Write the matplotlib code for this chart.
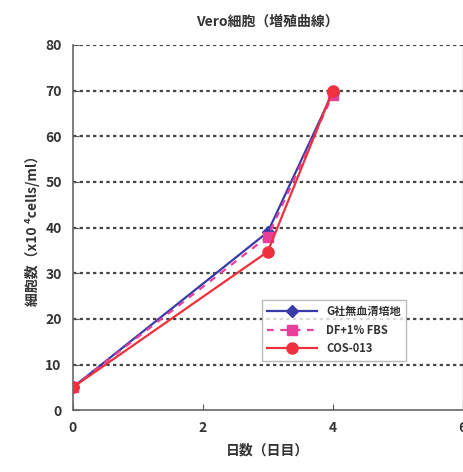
import matplotlib
matplotlib.use('Agg')
import matplotlib.pyplot as plt

plt.rcParams['font.family'] = ['Noto Sans CJK JP', 'DejaVu Sans']

# Data
days = [0, 3, 4]
g_serum_free = [5, 39, 69.5]
df_fbs = [5, 38, 69]
cos_013 = [5, 34.7, 70]

series_labels = ['G社無血清培地', 'DF+1% FBS', 'COS-013']
x_ticks = [0, 2, 4, 6]
y_ticks = [0, 10, 20, 30, 40, 50, 60, 70, 80]

text_color = '#333333'

fig = plt.figure(figsize=(4.64, 4.72), dpi=100)
ax = fig.add_axes([0.157, 0.131, 0.84, 0.774])

# Dotted horizontal gridlines
for yv in y_ticks[1:]:
    ax.axhline(yv, color='#444444', linestyle=(0, (1.5, 1.5)), linewidth=1.6, zorder=1)

ax.plot(days, g_serum_free, color='#3a3aa8', marker='D', markersize=6,
        linewidth=1.6, label=series_labels[0], zorder=3)
ax.plot(days, df_fbs, color='#e8409a', marker='s', markersize=7,
        linewidth=1.6, linestyle=(0, (3, 3)), label=series_labels[1], zorder=4)
ax.plot(days, cos_013, color='#f0303c', marker='o', markersize=8,
        linewidth=1.6, label=series_labels[2], zorder=5)

ax.set_xlim(0, 6)
ax.set_ylim(0, 80)
ax.set_xticks(x_ticks)
ax.set_yticks(y_ticks)
ax.tick_params(direction='in', length=4, color='#555555', labelsize=10,
               labelcolor=text_color, pad=8)

for side in ['left', 'bottom']:
    ax.spines[side].set_color('#666666')
    ax.spines[side].set_linewidth(1.2)
ax.spines['top'].set_visible(False)
ax.spines['right'].set_color('#999999')
ax.spines['right'].set_linewidth(1.0)

ax.set_title('Vero細胞（増殖曲線）', fontsize=10, color=text_color,
             fontweight='bold', pad=14)
ax.set_xlabel('日数（日目）', fontsize=10, color=text_color, fontweight='bold', labelpad=6)
ax.set_ylabel('細胞数（x10 ⁴cells/ml）', fontsize=10, color=text_color,
              fontweight='bold', labelpad=4)

for lbl in ax.get_xticklabels() + ax.get_yticklabels():
    lbl.set_fontweight('bold')

leg = ax.legend(loc='lower left', bbox_to_anchor=(0.47, 0.12), fontsize=8,
                frameon=True, fancybox=False, edgecolor='#aaaaaa',
                handlelength=4.5, borderpad=0.5, labelspacing=0.5)
leg.get_frame().set_linewidth(1.0)
for t in leg.get_texts():
    t.set_color(text_color)
    t.set_fontweight('bold')

fig.savefig('out.png', dpi=100)
